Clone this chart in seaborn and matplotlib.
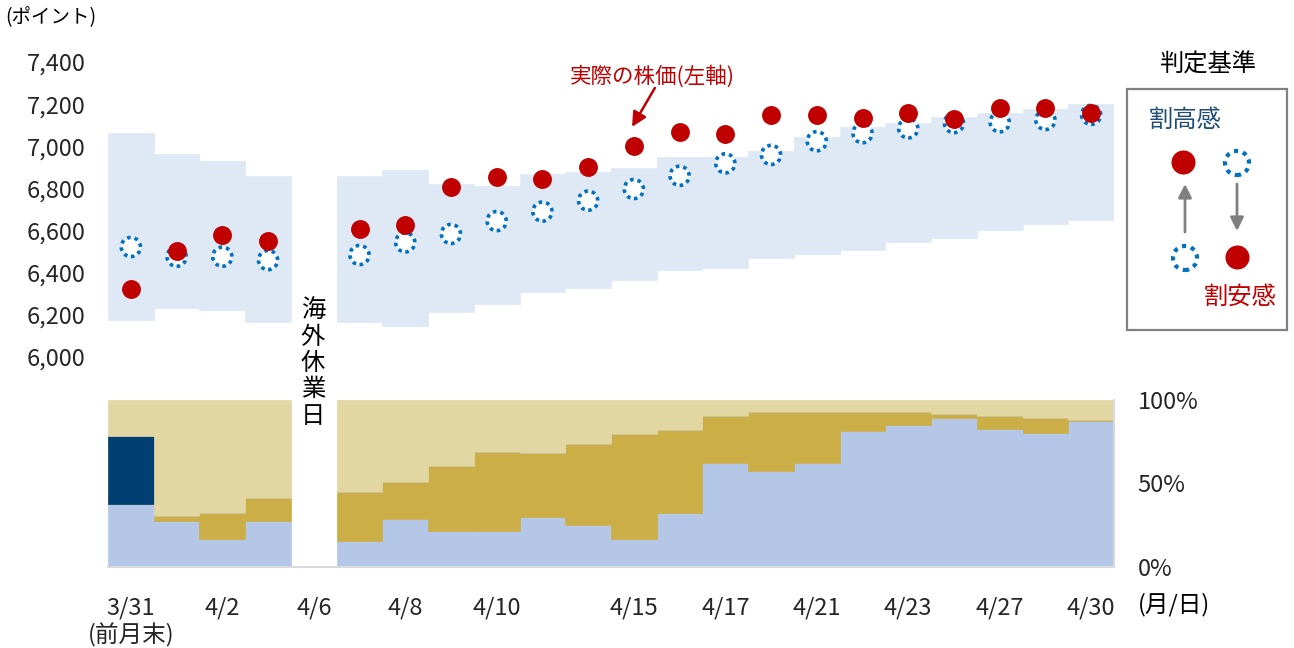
import numpy as np
import pandas as pd
import matplotlib
matplotlib.use("Agg")
import matplotlib.pyplot as plt
from matplotlib.patches import Rectangle
import seaborn as sns

sns.set_theme(style="white")
plt.rcParams['font.family'] = ['Noto Sans CJK JP', 'DejaVu Sans']

# ---- data ----
dates = ['3/31', '4/1', '4/2', '4/3', '4/6', '4/7', '4/8', '4/9', '4/10', '4/13', '4/14',
         '4/15', '4/16', '4/17', '4/20', '4/21', '4/22', '4/23', '4/24', '4/27', '4/28', '4/30']
shown = ['3/31\n(前月末)', '', '4/2', '', '4/6', '', '4/8', '', '4/10', '', '',
         '4/15', '', '4/17', '', '4/21', '', '4/23', '', '4/27', '', '4/30']
nan = np.nan

# actual index (left axis)
actual = [6323, 6503, 6579, 6551, nan, 6607, 6626, 6805, 6853, 6843, 6900,
          7003, 7069, 7060, 7147, 7147, 7136, 7157, 7128, 7183, 7183, 7157]
# fair value estimate
fair = [6522, 6476, 6476, 6460, nan, 6484, 6544, 6584, 6645, 6690, 6742,
        6797, 6860, 6919, 6959, 7024, 7062, 7085, 7110, 7114, 7125, 7149]
# range band
band_hi = [7064, 6962, 6932, 6858, nan, 6859, 6886, 6820, 6812, 6867, 6877,
           6896, 6951, 6951, 6979, 7046, 7093, 7112, 7140, 7159, 7178, 7199]
band_lo = [6176, 6231, 6223, 6168, nan, 6168, 6149, 6215, 6253, 6308, 6327,
           6365, 6413, 6421, 6468, 6489, 6508, 6544, 6563, 6601, 6630, 6649]

# bottom panel shares (%)
share_low = [37.7, 27.5, 16.8, 27.5, nan, 15.6, 28.7, 21.6, 21.6, 29.9, 25.1,
             16.8, 32.3, 62.3, 57.7, 62.3, 81.3, 84.8, 89.4, 82.4, 80.0, 87.2]
share_mid = [0, 3.2, 15.3, 14.0, nan, 29.5, 22.4, 39.1, 47.4, 38.2, 48.7,
             63.0, 49.9, 28.3, 35.1, 30.5, 11.5, 8.0, 2.2, 8.0, 9.2, 0.8]
share_navy = [40.7, 0, 0, 0, nan, 0, 0, 0, 0, 0, 0,
              0, 0, 0, 0, 0, 0, 0, 0, 0, 0, 0]

df = pd.DataFrame({'date': dates, 'actual': actual, 'fair': fair,
                   'hi': band_hi, 'lo': band_lo, 'low': share_low,
                   'mid': share_mid, 'navy': share_navy})
df['x'] = np.arange(len(df))
df['top'] = 100 - df['low'] - df['mid'] - df['navy']

RED = '#C00000'
BLUE = '#0070C0'
FS = 17
JFS = 17.5

fig = plt.figure(figsize=(12.94, 6.48), dpi=100)
L, W = 108 / 1294, (1114 - 108) / 1294
ax = fig.add_axes([L, (648 - 357) / 648, W, 295 / 648])
ax2 = fig.add_axes([L, (648 - 567) / 648, W, 167 / 648])

# ---- top panel ----
ax.bar(df['x'], df['hi'] - df['lo'], bottom=df['lo'], width=1.0,
       color='#DEE9F5', edgecolor='#DEE9F5', linewidth=0.5)
sns.scatterplot(data=df, x='x', y='fair', ax=ax, s=190, color='white',
                edgecolor=BLUE, linewidth=2.6, linestyle=(0, (1.0, 1.1)),
                zorder=3, clip_on=False)
sns.scatterplot(data=df, x='x', y='actual', ax=ax, s=185, color=RED,
                edgecolor=RED, linewidth=0, zorder=4, clip_on=False)
ax.set_xlim(-0.5, len(df) - 0.5)
ax.set_ylim(6000, 7400)
ax.set_yticks(np.arange(6000, 7401, 200))
ax.set_yticklabels([f'{v:,}' for v in range(6000, 7401, 200)], fontsize=FS)
ax.tick_params(axis='y', length=0, pad=16)
ax.set_xticks([])
ax.set_xlabel('')
ax.set_ylabel('')
for s in ax.spines.values():
    s.set_visible(False)

ax.text(11.4, 7330, '実際の株価(左軸)', ha='center', va='center', color=RED, fontsize=15.5)
ax.annotate('', xy=(10.96, 7092), xytext=(11.46, 7277),
            arrowprops=dict(arrowstyle='-|>', color=RED, lw=1.8,
                            mutation_scale=22, shrinkA=0, shrinkB=0))

# ---- bottom panel ----
ax2.bar(df['x'], df['low'], width=1.0, color='#B4C7E7', edgecolor='#B4C7E7', linewidth=0.5)
ax2.bar(df['x'], df['mid'], bottom=df['low'], width=1.0,
        color='#CBAE46', edgecolor='#CBAE46', linewidth=0.5)
ax2.bar(df['x'], df['navy'], bottom=df['low'] + df['mid'], width=1.0,
        color='#003F71', edgecolor='#003F71', linewidth=0.5)
ax2.bar(df['x'], df['top'], bottom=df['low'] + df['mid'] + df['navy'], width=1.0,
        color='#E2D6A3', edgecolor='#E2D6A3', linewidth=0.5)
ax2.set_xlim(-0.5, len(df) - 0.5)
ax2.set_ylim(0, 100)
ax2.yaxis.tick_right()
ax2.set_yticks([0, 50, 100])
ax2.set_yticklabels(['0%', '50%', '100%'], fontsize=FS)
ax2.tick_params(axis='y', length=0, pad=17)
ax2.set_xticks(df['x'])
ax2.set_xticklabels(shown, fontsize=FS, linespacing=1.2)
ax2.tick_params(axis='x', length=0, pad=21)
ax2.set_xlabel('')
ax2.set_ylabel('')
for k, s in ax2.spines.items():
    s.set_visible(k in ('bottom', 'right'))
    s.set_color('#D9D9D9')
    s.set_linewidth(1.5)

# ---- overlay in pixel coordinates for texts / legend ----
ov = fig.add_axes([0, 0, 1, 1], zorder=10)
ov.set_xlim(0, 1294)
ov.set_ylim(648, 0)
ov.axis('off')
ov.patch.set_alpha(0)

ov.text(5, 18, '(ポイント)', ha='left', va='center', fontsize=14, color='black')
ov.text(1138, 605, '(月/日)', ha='left', va='center', fontsize=FS, color='black')
ov.text(313, 363, '\n'.join('海外休業日'), ha='center', va='center',
        fontsize=JFS, linespacing=1.02, color='black')

ov.text(1208, 65, '判定基準', ha='center', va='center', fontsize=JFS, color='black')
ov.add_patch(Rectangle((1127, 89), 160, 241, fill=False, edgecolor='#808080', lw=1.6))
ov.text(1185, 120, '割高感', ha='center', va='center', fontsize=JFS, color='#1F4E79')
ov.text(1240, 297, '割安感', ha='center', va='center', fontsize=JFS, color=RED)
ov.scatter([1183, 1237], [162, 257], s=300, color=RED, linewidth=0, zorder=5)
ov.scatter([1237, 1185], [163, 258], s=300, color='white', edgecolor=BLUE,
           linewidth=3.0, linestyle=(0, (1.0, 1.2)), zorder=5)
ov.annotate('', xy=(1185, 184), xytext=(1185, 232),
            arrowprops=dict(arrowstyle='-|>', color='#808080', lw=2, mutation_scale=20,
                            shrinkA=0, shrinkB=0))
ov.annotate('', xy=(1237, 231), xytext=(1237, 184),
            arrowprops=dict(arrowstyle='-|>', color='#808080', lw=2, mutation_scale=20,
                            shrinkA=0, shrinkB=0))

fig.savefig('out.png', dpi=100)
